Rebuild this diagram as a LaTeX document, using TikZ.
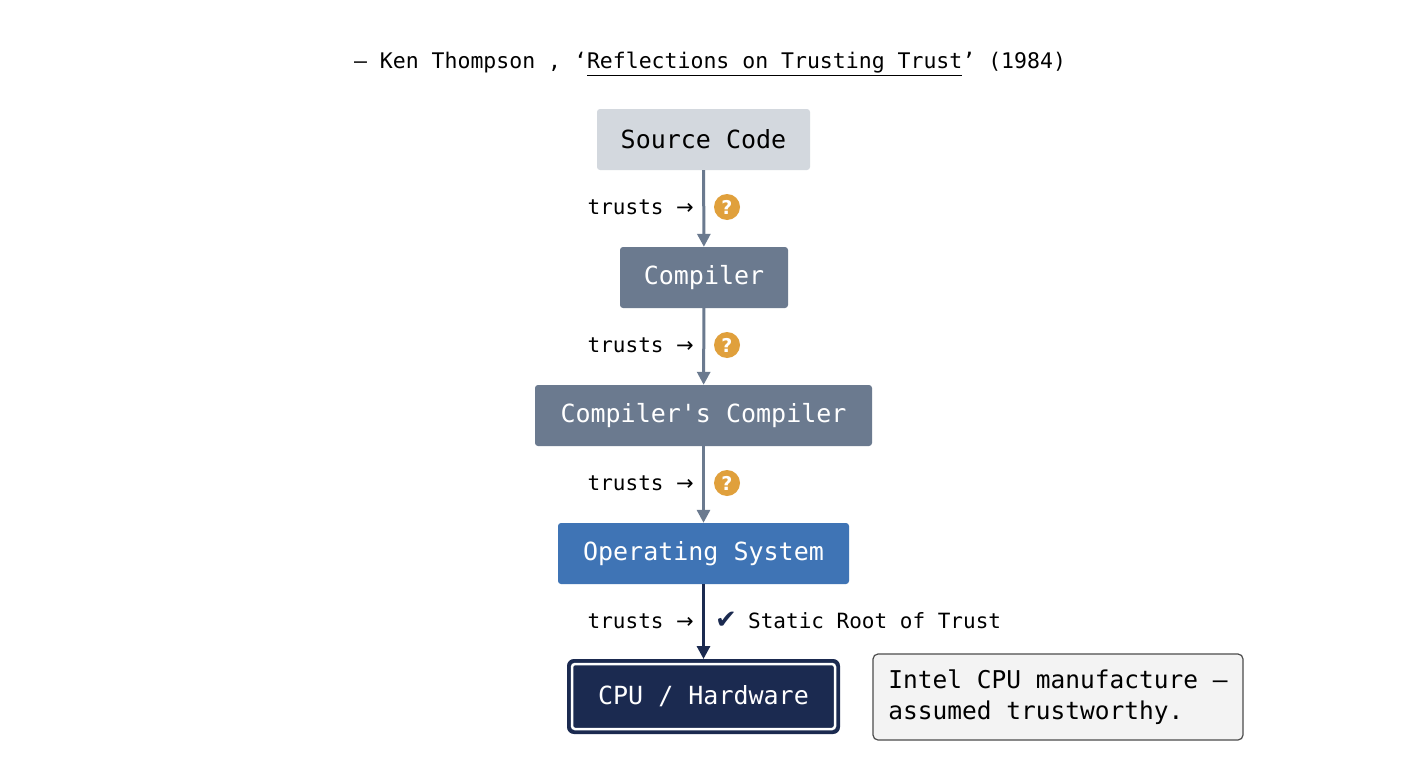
\documentclass[tikz,border=0pt]{standalone}
\usepackage{fontspec}
\setmainfont{DejaVu Sans Mono}
\newfontfamily\symf{DejaVu Sans}
\usetikzlibrary{arrows.meta}
\definecolor{lgray}{HTML}{D3D8DE}
\definecolor{slate}{HTML}{6B7A8F}
\definecolor{osblue}{HTML}{3F74B5}
\definecolor{navy}{HTML}{1B2A50}
\definecolor{qorange}{HTML}{E0A03C}
\definecolor{notebg}{HTML}{F3F3F3}
\begin{document}
\begin{tikzpicture}[x=1pt,y=-1pt,
  box/.style={rounded corners=3pt,inner sep=0pt,font=\fontsize{25}{28}\selectfont},
  arr/.style={line width=3pt,-{Triangle[length=13pt,width=13pt]}},
  lab/.style={anchor=east,font=\fontsize{21}{24}\selectfont,inner sep=0pt},
  q/.style={circle,fill=qorange,text=white,inner sep=0pt,minimum size=26pt,font=\symf\fontsize{19}{20}\selectfont\bfseries}]
\useasboundingbox (0,0) rectangle (1408,768);
\fill[white] (0,0) rectangle (1408,768);
\node[font=\fontsize{21.5}{24}\selectfont,inner sep=0pt] (quote) at (710,64)
  {– Ken Thompson , ‘\underline{Reflections on Trusting Trust}’ (1984)};
\node[box,fill=lgray,text=black,minimum width=213pt,minimum height=61pt] (src) at (703.5,139.5) {Source Code};
\node[box,fill=slate,text=white,minimum width=168pt,minimum height=61pt] (cmp) at (704,277.5) {Compiler};
\node[box,fill=slate,text=white,minimum width=337pt,minimum height=61pt] (cc) at (703.5,415.5) {Compiler\textquotesingle s Compiler};
\node[box,fill=osblue,text=white,minimum width=291pt,minimum height=61pt] (os) at (703.5,553.5) {Operating System};
\node[box,fill=navy,text=white,minimum width=271pt,minimum height=73pt,draw=navy,line width=2pt,rounded corners=6pt] (cpu) at (703.5,696.5) {CPU / Hardware};
\draw[white,line width=2.5pt,rounded corners=3pt] ([shift={(5pt,5pt)}]cpu.south west) rectangle ([shift={(-5pt,-5pt)}]cpu.north east);
\node[draw=black!70,line width=1.2pt,fill=notebg,rounded corners=5pt,minimum width=370pt,minimum height=86pt,align=left,inner sep=0pt,font=\fontsize{24.5}{31}\selectfont] (note) at (1058,697)
  {Intel CPU manufacture —\\assumed trustworthy.};
\draw[arr,slate] (src) -- (cmp);
\draw[arr,slate] (cmp) -- (cc);
\draw[arr,slate] (cc) -- (os);
\draw[arr,navy] (os) -- (cpu);
\node[lab] (l1) at (694,207) {trusts \symf→};
\node[lab] (l2) at (694,345) {trusts \symf→};
\node[lab] (l3) at (694,483) {trusts \symf→};
\node[lab] (l4) at (694,621) {trusts \symf→};
\node[q] (q1) at (727,207) {?};
\node[q] (q2) at (727,345) {?};
\node[q] (q3) at (727,483) {?};
\node[inner sep=0pt,text=navy,font=\symf\fontsize{26}{28}\selectfont\bfseries] (chk) at (726,620) {✔};
\node[anchor=west,inner sep=0pt,font=\fontsize{21}{24}\selectfont] (srt) at (748,621) {Static Root of Trust};
\end{tikzpicture}
\end{document}
